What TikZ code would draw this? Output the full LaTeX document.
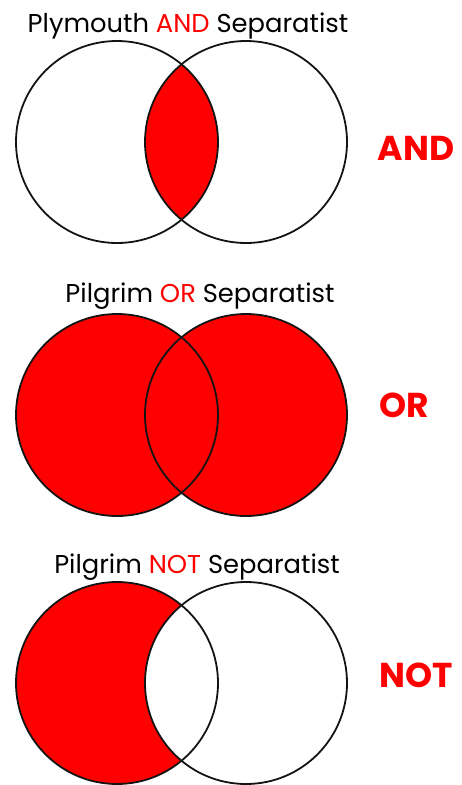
\documentclass[tikz,border=0pt]{standalone}
\usepackage{fontspec}
\setmainfont{Poppins}
\usepackage{xcolor}
\usepackage{tikz}
\definecolor{vRed}{RGB}{255,0,0}
\definecolor{vLine}{RGB}{20,20,20}
\newcommand{\setR}{101pt}

\begin{document}
\begin{tikzpicture}[x=1pt, y=-1pt, font=\fontsize{25.8}{30}\selectfont,
    set/.style={draw=vLine, line width=1.8pt},
    title/.style={anchor=base, inner sep=0pt},
    op/.style={anchor=base, inner sep=0pt, text=vRed, font=\fontsize{34.5}{40}\selectfont\bfseries}]
  \useasboundingbox (0,0) rectangle (462,785);

  \coordinate (andL) at (117,142);
  \coordinate (andR) at (246,142);
  \coordinate (orL)  at (117,415);
  \coordinate (orR)  at (246,415);
  \coordinate (notL) at (117,683);
  \coordinate (notR) at (246,683);

  \begin{scope}
    \clip (andL) circle[radius=\setR];
    \fill[vRed] (andR) circle[radius=\setR];
  \end{scope}
  \draw[set] (andL) circle[radius=\setR];
  \draw[set] (andR) circle[radius=\setR];
  \node[title] (andTitle) at (188,32) {Plymouth \textcolor{vRed}{AND} Separatist};
  \node[op] (andOp) at (416,160) {AND};

  \fill[vRed] (orL) circle[radius=\setR];
  \fill[vRed] (orR) circle[radius=\setR];
  \draw[set] (orL) circle[radius=\setR];
  \draw[set] (orR) circle[radius=\setR];
  \node[title] (orTitle) at (200,302) {Pilgrim \textcolor{vRed}{OR} Separatist};
  \node[op] (orOp) at (404,417) {OR};

  \fill[vRed] (notL) circle[radius=\setR];
  \begin{scope}
    \clip (notL) circle[radius=\setR];
    \fill[white] (notR) circle[radius=\setR];
  \end{scope}
  \draw[set] (notL) circle[radius=\setR];
  \draw[set] (notR) circle[radius=\setR];
  \node[title] (notTitle) at (197,573) {Pilgrim \textcolor{vRed}{NOT} Separatist};
  \node[op] (notOp) at (416,687) {NOT};
\end{tikzpicture}
\end{document}
